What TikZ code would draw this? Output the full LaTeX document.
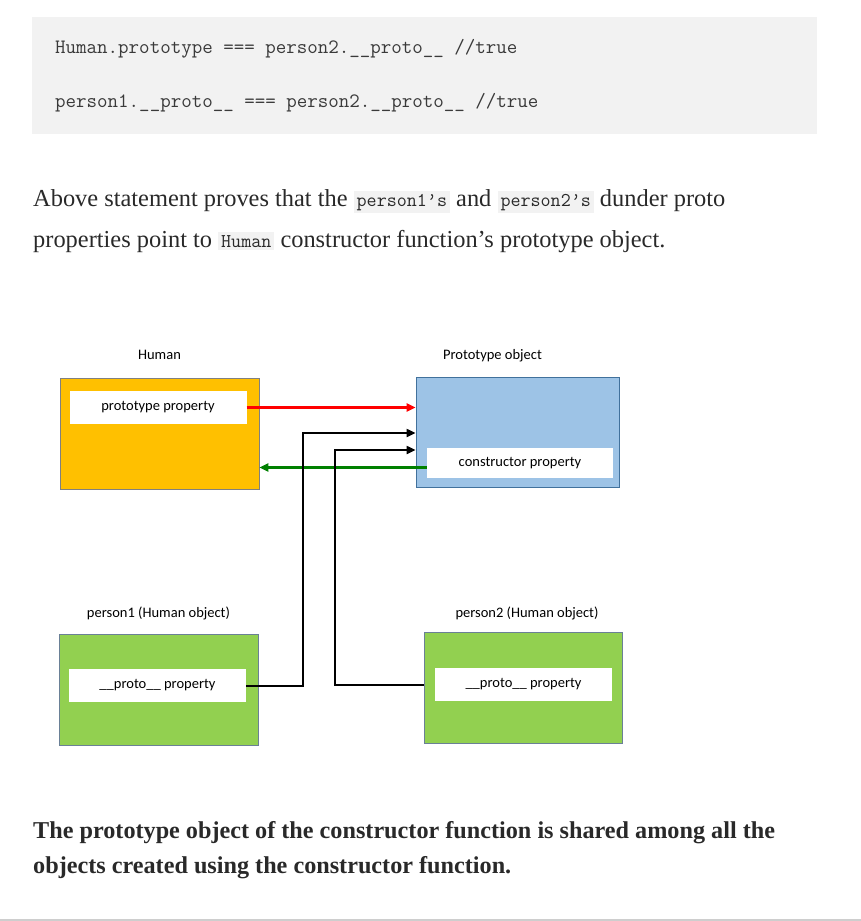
\documentclass[tikz,border=0pt]{standalone}
\usepackage{fontspec}
\setmainfont{Liberation Serif}
\setsansfont{Carlito}
\usetikzlibrary{positioning, arrows.meta}
\definecolor{codebg}{HTML}{F2F2F2}
\definecolor{codetext}{HTML}{3A3A3A}
\definecolor{bodytext}{HTML}{292929}
\definecolor{humanfill}{HTML}{FFC000}
\definecolor{protofill}{HTML}{9DC3E6}
\definecolor{protoline}{HTML}{41719C}
\definecolor{personfill}{HTML}{92D050}
\definecolor{personline}{HTML}{6A8096}
\definecolor{redline}{HTML}{FF0000}
\definecolor{greenline}{HTML}{008000}
\newcommand{\inlinecode}[1]{{\setlength{\fboxsep}{3pt}\colorbox{codebg}{\fontsize{19.5}{21}\selectfont\ttfamily #1}}}
\tikzstyle{codeline} = [anchor=base west, inner sep=0pt, font=\fontsize{20.4}{22}\selectfont\ttfamily, text=codetext]
\tikzstyle{bodyline} = [anchor=base west, inner sep=0pt, font=\fontsize{24.4}{28}\selectfont, text=bodytext]
\tikzstyle{boldline} = [bodyline, font=\fontsize{24.2}{28}\selectfont\bfseries]
\tikzstyle{object} = [rectangle, minimum width=199pt, minimum height=111pt, draw=gray, line width=0.8pt]
\tikzstyle{property} = [rectangle, minimum width=177pt, minimum height=33pt, fill=white, inner sep=0pt, font=\sffamily\fontsize{14.5}{17}\selectfont]
\tikzstyle{caption} = [inner sep=0pt, font=\sffamily\fontsize{14.5}{17}\selectfont, text height=10pt, text depth=3pt]
\tikzstyle{arrow} = [line width=2pt, -{Triangle[length=9pt,width=8pt]}]

\begin{document}
\begin{tikzpicture}[x=1pt, y=-1pt]
	\useasboundingbox (0,0) rectangle (861,921);
	% code block and text
	\node (code) [rectangle, fill=codebg, minimum width=785pt, minimum height=117pt] at (424.5,75.5) {};
	\node (code1) [codeline] at (55,53) {Human.prototype === person2.\_\_proto\_\_ //true};
	\node (code2) [codeline] at (55,107) {person1.\_\_proto\_\_ === person2.\_\_proto\_\_ //true};
	\node (para1) [bodyline] at (33,206) {Above statement proves that the \inlinecode{person1’s} and \inlinecode{person2’s} dunder proto};
	\node (para2) [bodyline] at (33,247) {properties point to \inlinecode{Human} constructor function’s prototype object.};
	\node (note1) [boldline] at (33,838) {The prototype object of the constructor function is shared among all the};
	\node (note2) [boldline] at (33,873) {objects created using the constructor function.};
	% objects
	\node (human) [object, fill=humanfill] at (159.5,433.5) {};
	\node (protoprop) [property] at (158,407.5) {prototype property};
	\node (proto) [object, fill=protofill, draw=protoline, minimum width=203pt, minimum height=110pt] at (517.5,432) {};
	\node (ctorprop) [property, minimum width=186pt, minimum height=30pt] at (520,463) {constructor property};
	\node (person1) [object, fill=personfill, draw=personline] at (158.5,689.5) {};
	\node (p1prop) [property] at (157.5,685.5) {\_\_proto\_\_ property};
	\node (person2) [object, fill=personfill, draw=personline, minimum width=198pt] at (523,687.5) {};
	\node (p2prop) [property] at (523.5,684.5) {\_\_proto\_\_ property};
	% captions
	\node (humanlbl) [caption, above=15pt of human] {Human};
	\node (protolbl) [caption, above=14pt of proto, xshift=-25pt] {Prototype object};
	\node (person1lbl) [caption, above=13pt of person1] {person1 (Human object)};
	\node (person2lbl) [caption, above=11pt of person2, xshift=4pt] {person2 (Human object)};
	% links
	\coordinate (bend1) at (303,433);
	\coordinate (bend2) at (335,450);
	\draw [arrow, redline, line width=2.5pt] (protoprop.east) -- (protoprop.east -| proto.west);
	\draw [arrow, greenline, line width=2.5pt] ([yshift=-4.5pt]ctorprop.west) -- ([yshift=-4.5pt]ctorprop.west -| human.east);
	\draw [arrow] (p1prop.east) -| (bend1) -- (bend1 -| proto.west);
	\draw [arrow] (p2prop.west -| person2.west) -| (bend2) -- (bend2 -| proto.west);
	\draw [codebg!85!black, line width=2pt] (0,920) -- (861,920);
\end{tikzpicture}
\end{document}
